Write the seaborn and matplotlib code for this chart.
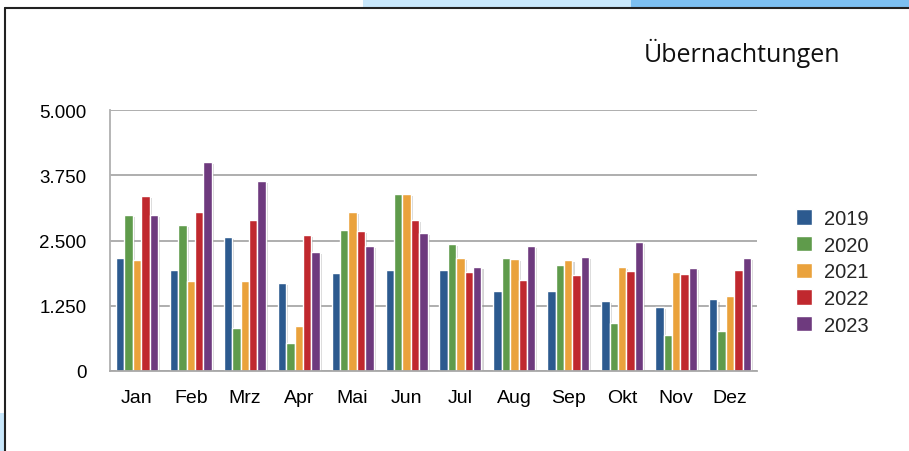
import matplotlib
matplotlib.use("Agg")
import matplotlib.pyplot as plt
import matplotlib.patheffects as pe
from matplotlib.patches import Rectangle
from matplotlib.lines import Line2D
import seaborn as sns
import pandas as pd

months = ["Jan", "Feb", "Mrz", "Apr", "Mai", "Jun", "Jul", "Aug", "Sep", "Okt", "Nov", "Dez"]
years = ["2019", "2020", "2021", "2022", "2023"]
v2019 = [2160, 1930, 2570, 1690, 1885, 1930, 1930, 1535, 1535, 1350, 1235, 1370]
v2020 = [2985, 2800, 830, 545, 2700, 3400, 2440, 2160, 2025, 925, 690, 760]
v2021 = [2120, 1725, 1725, 855, 3055, 3400, 2160, 2140, 2120, 2000, 1905, 1445]
v2022 = [3355, 3055, 2885, 2605, 2675, 2885, 1905, 1740, 1840, 1910, 1865, 1935]
v2023 = [2985, 4010, 3640, 2280, 2395, 2650, 2000, 2395, 2185, 2470, 1980, 2165]
colors = ["#2c5a8f", "#5f9b4b", "#eaa23c", "#c0282e", "#6e3a7e"]
yticks = [0, 1250, 2500, 3750, 5000]
ytick_labels = ["0", "1.250", "2.500", "3.750", "5.000"]
title = "Übernachtungen"

rows = []
for y, vals in zip(years, [v2019, v2020, v2021, v2022, v2023]):
    for m, v in zip(months, vals):
        rows.append({"Monat": m, "Jahr": y, "Wert": v})
df = pd.DataFrame(rows)

sns.set_style("white")
plt.rcParams["font.family"] = ["Liberation Sans", "DejaVu Sans"]

fig = plt.figure(figsize=(9.09, 4.52), dpi=100)
ax = fig.add_axes([110 / 909, 1 - 372 / 452, (757 - 110) / 909, (372 - 111) / 452])

sns.barplot(data=df, x="Monat", y="Wert", hue="Jahr", order=months, hue_order=years,
            palette=colors, width=0.78, edgecolor="white", linewidth=1.0,
            saturation=1, ax=ax, legend=True)
for p in ax.patches:
    p.set_path_effects([pe.SimplePatchShadow(offset=(1.5, -1.5), shadow_rgbFace="#888888", alpha=0.35),
                        pe.Normal()])

ax.set_ylim(0, 5000)
ax.set_xlim(-0.5, 11.5)
ax.set_yticks(yticks)
ax.set_yticklabels(ytick_labels)
ax.yaxis.grid(True, color="#a8a8a8", linewidth=1.3)
ax.set_axisbelow(True)
ax.set_xlabel("")
ax.set_ylabel("")
for s in ["top", "right"]:
    ax.spines[s].set_visible(False)
ax.spines["left"].set_color("#b0b0b0")
ax.spines["left"].set_linewidth(1.3)
ax.spines["bottom"].set_color("#a8a8a8")
ax.spines["bottom"].set_linewidth(1.3)
ax.tick_params(axis="y", length=3, color="#a8a8a8", width=1.3, pad=14, labelsize=13.5, labelcolor="black")
ax.tick_params(axis="x", length=0, pad=13, labelsize=14, labelcolor="black")
ax.set_xticks([i + 0.5 for i in range(11)], minor=True)
ax.tick_params(axis="x", which="minor", length=3, color="#b0b0b0", width=1)

handles = [Rectangle((0, 0), 1, 1, facecolor=c, edgecolor="white") for c in colors]
ax.legend(handles, years, loc="upper left", bbox_to_anchor=(786 / 909, 1 - 200 / 452),
          bbox_transform=fig.transFigure, frameon=False, fontsize=14.5,
          handlelength=0.8, handleheight=0.8, handletextpad=0.6, labelspacing=0.38, borderpad=0)

fig.text(840 / 909, 1 - 53 / 452, title, ha="right", va="center", fontsize=18,
         family=["Open Sans", "DejaVu Sans"], color="#111111")

# page frame decoration
fig.patches.append(Rectangle((363 / 909, 1 - 8 / 452), (631 - 363) / 909, 8 / 452,
                             transform=fig.transFigure, facecolor="#c8e7fb", edgecolor="none"))
fig.patches.append(Rectangle((631 / 909, 1 - 8 / 452), (909 - 631) / 909, 8 / 452,
                             transform=fig.transFigure, facecolor="#7cbff1", edgecolor="none"))
fig.patches.append(Rectangle((0, 0), 4 / 909, 38 / 452,
                             transform=fig.transFigure, facecolor="#c8e7fb", edgecolor="none"))
fig.lines.append(Line2D([5 / 909, 1], [1 - 9 / 452, 1 - 9 / 452], transform=fig.transFigure,
                        color="#222222", linewidth=1.5))
fig.lines.append(Line2D([5 / 909, 5 / 909], [0, 1 - 9 / 452], transform=fig.transFigure,
                        color="#222222", linewidth=1.5))

fig.savefig("out.png", dpi=100)
